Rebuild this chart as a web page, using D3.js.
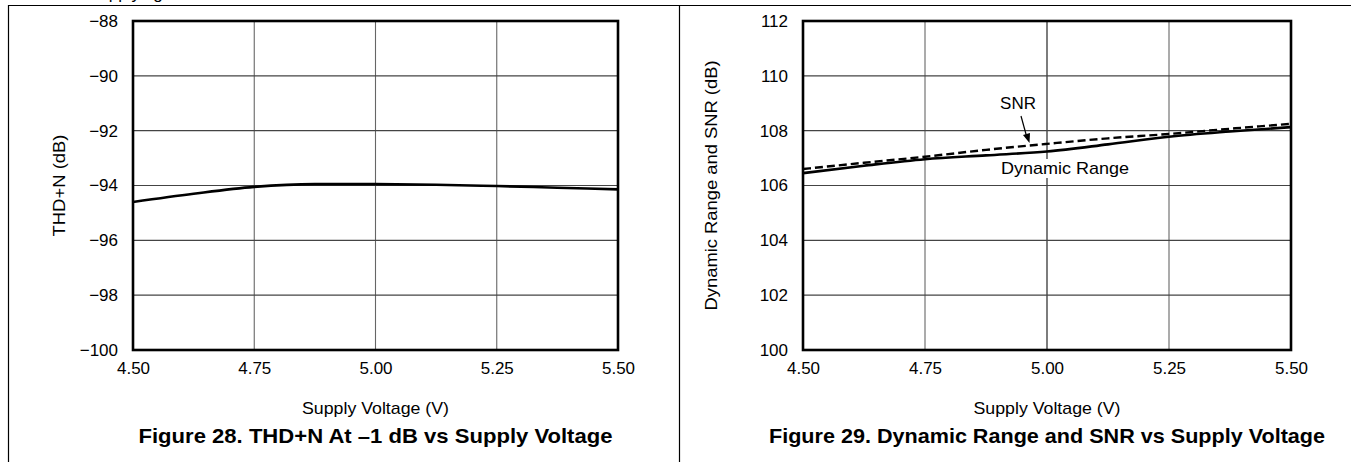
<!DOCTYPE html>
<html>
<head>
<meta charset="utf-8">
<script src="https://cdn.jsdelivr.net/npm/d3@7"></script>
<style>
  html, body { margin: 0; padding: 0; background: #fff; }
  svg { display: block; font-family: "Liberation Sans", Arial, Helvetica, sans-serif; }
</style>
</head>
<body>
<svg id="chart" width="1351" height="462"></svg>
<script>
// Supply-voltage sweep points (V)
const voltage = [4.50, 4.625, 4.75, 4.875, 5.00, 5.125, 5.25, 5.375, 5.50];
// Figure 28: THD+N at -1 dB (dB)
const thdN = [-94.6, -94.3, -94.05, -93.95, -93.95, -93.97, -94.02, -94.08, -94.14];
// Figure 29: dynamic range and SNR (dB)
const dynamicRange = [106.45, 106.72, 106.96, 107.1, 107.24, 107.5, 107.78, 107.97, 108.13];
const snr = [106.6, 106.83, 107.05, 107.3, 107.52, 107.72, 107.88, 108.07, 108.25];

const xTicks = [4.50, 4.75, 5.00, 5.25, 5.50];
const thdTicks = [-100, -98, -96, -94, -92, -90, -88];
const drTicks = [100, 102, 104, 106, 108, 110, 112];

const svg = d3.select("#chart");

// Page frame: top rule, left rule and the column divider
svg.append("line").attr("x1", 8).attr("x2", 1351).attr("y1", 5.5).attr("y2", 5.5)
  .attr("stroke", "#000").attr("stroke-width", 1.2);
svg.append("line").attr("x1", 8.5).attr("x2", 8.5).attr("y1", 5).attr("y2", 462)
  .attr("stroke", "#000").attr("stroke-width", 1.2);
svg.append("line").attr("x1", 679.5).attr("x2", 679.5).attr("y1", 5).attr("y2", 462)
  .attr("stroke", "#000").attr("stroke-width", 1.2);
// Tail of the heading above this row, running off the top edge
svg.append("text").attr("x", 88).attr("y", -1).attr("font-size", 17).text("Supplying");

function panel(opts) {
  const g = svg.append("g");
  const x = d3.scaleLinear().domain([4.5, 5.5]).range([opts.left, opts.right]);
  const y = d3.scaleLinear().domain(opts.yDomain).range([opts.bottom, opts.top]);

  // grid
  g.append("g").selectAll("line").data(xTicks.slice(1, -1)).join("line")
    .attr("x1", d => x(d)).attr("x2", d => x(d))
    .attr("y1", opts.top).attr("y2", opts.bottom)
    .attr("stroke", d => d === 5.0 && opts.darkCenter ? "#111" : "#666").attr("stroke-width", 1.1);
  g.append("g").selectAll("line").data(opts.yTicks.slice(1, -1)).join("line")
    .attr("x1", opts.left).attr("x2", opts.right)
    .attr("y1", d => y(d)).attr("y2", d => y(d))
    .attr("stroke", "#444").attr("stroke-width", 1.1);

  // axes drawn with d3 axis generators (labels only, frame drawn separately)
  const xAxis = d3.axisBottom(x).tickValues(xTicks).tickFormat(d3.format(".2f")).tickSize(0).tickPadding(12);
  const gx = g.append("g").attr("transform", `translate(0,${opts.bottom})`).call(xAxis)
    .attr("font-size", null).attr("font-family", null);
  gx.select(".domain").remove();
  gx.selectAll("text").attr("font-size", 17).attr("fill", "#000");

  const yAxis = d3.axisLeft(y).tickValues(opts.yTicks).tickFormat(opts.yFormat).tickSize(0).tickPadding(15);
  const gy = g.append("g").attr("transform", `translate(${opts.left},0)`).call(yAxis)
    .attr("font-size", null).attr("font-family", null);
  gy.select(".domain").remove();
  gy.selectAll("text").attr("font-size", 17).attr("fill", "#000");

  return { g, x, y };
}

function frame(p, opts) {
  p.g.append("rect").attr("x", opts.left).attr("y", opts.top)
    .attr("width", opts.right - opts.left).attr("height", opts.bottom - opts.top)
    .attr("fill", "none").attr("stroke", "#000").attr("stroke-width", 2.6);
}

function titles(opts) {
  const cx = (opts.left + opts.right) / 2;
  svg.append("text").attr("x", cx).attr("y", 414)
    .attr("text-anchor", "middle").attr("font-size", 17).attr("textLength", 147)
    .attr("lengthAdjust", "spacingAndGlyphs").text("Supply Voltage (V)");
  svg.append("text")
    .attr("transform", `translate(${opts.yTitleX},${(opts.top + opts.bottom) / 2}) rotate(-90)`)
    .attr("text-anchor", "middle").attr("font-size", 17).attr("textLength", opts.yTitleLen)
    .attr("lengthAdjust", "spacingAndGlyphs").text(opts.yTitle);
  svg.append("text").attr("x", cx).attr("y", 443)
    .attr("text-anchor", "middle").attr("font-size", 21).attr("font-weight", "bold")
    .attr("textLength", opts.captionLen).attr("lengthAdjust", "spacingAndGlyphs")
    .text(opts.caption);
}

const fmtNeg = d => d3.format("d")(d).replace("-", "\u2212");

// ---- Figure 28 ----
const o1 = { left: 133, right: 618, top: 21, bottom: 350, yDomain: [-100, -88], yTicks: thdTicks,
  yFormat: fmtNeg, yTitle: "THD+N (dB)", yTitleX: 65, yTitleLen: 102,
  caption: "Figure 28. THD+N At \u20131 dB vs Supply Voltage", captionLen: 474 };
const p1 = panel(o1);
const line1 = d3.line().x((d, i) => p1.x(voltage[i])).y(d => p1.y(d)).curve(d3.curveMonotoneX);
p1.g.append("path").datum(thdN).attr("d", line1)
  .attr("fill", "none").attr("stroke", "#000").attr("stroke-width", 2.6);
frame(p1, o1);
titles(o1);

// ---- Figure 29 ----
const o2 = { left: 803, right: 1291, top: 21, bottom: 350, yDomain: [100, 112], yTicks: drTicks,
  yFormat: d3.format("d"), yTitle: "Dynamic Range and SNR (dB)", yTitleX: 717, yTitleLen: 250,
  darkCenter: true, caption: "Figure 29. Dynamic Range and SNR vs Supply Voltage", captionLen: 556 };
const p2 = panel(o2);

// label for the dynamic-range curve, on a white patch over the grid
const drLabel = p2.g.append("text").attr("x", 1065).attr("y", 174)
  .attr("text-anchor", "middle").attr("font-size", 17).attr("textLength", 128)
  .attr("lengthAdjust", "spacingAndGlyphs").text("Dynamic Range");
const bb = drLabel.node().getBBox();
p2.g.insert("rect", () => drLabel.node())
  .attr("x", bb.x - 2).attr("y", bb.y).attr("width", bb.width + 4).attr("height", bb.height)
  .attr("fill", "#fff");

const line2 = d3.line().x((d, i) => p2.x(voltage[i])).y(d => p2.y(d)).curve(d3.curveMonotoneX);
p2.g.append("path").datum(dynamicRange).attr("d", line2)
  .attr("fill", "none").attr("stroke", "#000").attr("stroke-width", 2.6);
p2.g.append("path").datum(snr).attr("d", line2)
  .attr("fill", "none").attr("stroke", "#000").attr("stroke-width", 2.4).attr("stroke-dasharray", "8,4");

// SNR callout with arrow
p2.g.append("text").attr("x", 1018).attr("y", 109).attr("text-anchor", "middle")
  .attr("font-size", 17).text("SNR");
p2.g.append("line").attr("x1", 1021).attr("y1", 116).attr("x2", 1026.5).attr("y2", 136)
  .attr("stroke", "#000").attr("stroke-width", 1.2);
p2.g.append("path").attr("d", "M1023,135 L1030,133 L1029.5,143 Z").attr("fill", "#000");

frame(p2, o2);
titles(o2);
</script>
</body>
</html>
